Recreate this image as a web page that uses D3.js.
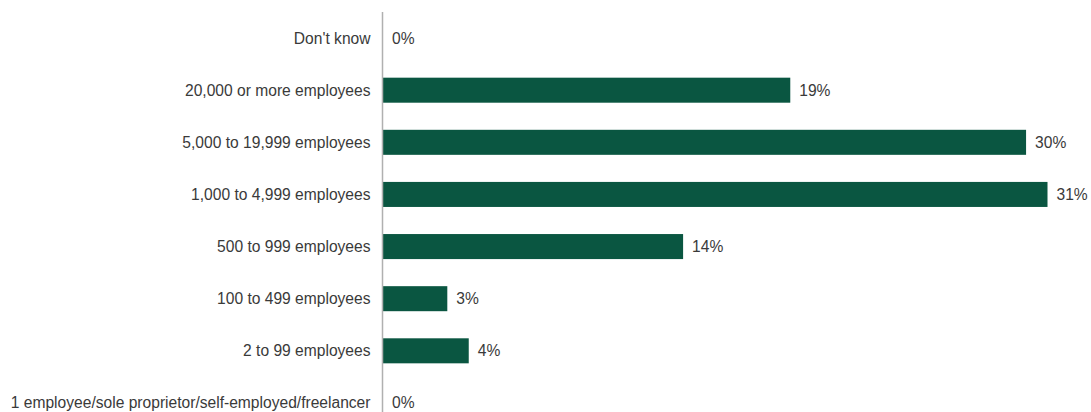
<!DOCTYPE html>
<html>
<head>
<meta charset="utf-8">
<script src="https://cdn.jsdelivr.net/npm/d3@7"></script>
<style>
  html, body { margin: 0; padding: 0; background: #fff; }
  svg text { font-family: "Liberation Sans", Arial, sans-serif; fill: #3a3a3a; }
</style>
</head>
<body>
<svg id="chart" width="1091" height="412"></svg>
<script>
// Company size categories, top to bottom
const categories = [
  "Don't know",
  "20,000 or more employees",
  "5,000 to 19,999 employees",
  "1,000 to 4,999 employees",
  "500 to 999 employees",
  "100 to 499 employees",
  "2 to 99 employees",
  "1 employee/sole proprietor/self-employed/freelancer"
];
// Share of respondents (%)
const values = [0, 19, 30, 31, 14, 3, 4, 0];

const svg = d3.select("#chart");
const axisX = 382.5;
const x = d3.scaleLinear().domain([0, 31]).range([axisX + 0.5, 1047.5]);
const y = d3.scaleBand().domain(categories).range([12, 429]).paddingInner(0.52).paddingOuter(0.26);

const rows = categories.map((c, i) => ({ c, v: values[i] }));

// Bars
svg.append("g").selectAll("rect").data(rows).join("rect")
  .attr("x", x(0))
  .attr("y", d => y(d.c))
  .attr("width", d => x(d.v) - x(0))
  .attr("height", y.bandwidth())
  .attr("fill", "#0a5641");

// Vertical category axis line
svg.append("line")
  .attr("x1", axisX).attr("x2", axisX)
  .attr("y1", 12).attr("y2", 412)
  .attr("stroke", "#b0b0b0").attr("stroke-width", 1.5);

// Category labels
svg.append("g").selectAll("text").data(rows).join("text")
  .attr("x", axisX - 12)
  .attr("y", d => y(d.c) + y.bandwidth() / 2)
  .attr("dy", "0.35em")
  .attr("text-anchor", "end")
  .attr("font-size", 15.6)
  .text(d => d.c);

// Value labels
svg.append("g").selectAll("text").data(rows).join("text")
  .attr("x", d => x(d.v) + 9)
  .attr("y", d => y(d.c) + y.bandwidth() / 2)
  .attr("dy", "0.35em")
  .attr("font-size", 15.6)
  .text(d => d.v + "%");
</script>
</body>
</html>
